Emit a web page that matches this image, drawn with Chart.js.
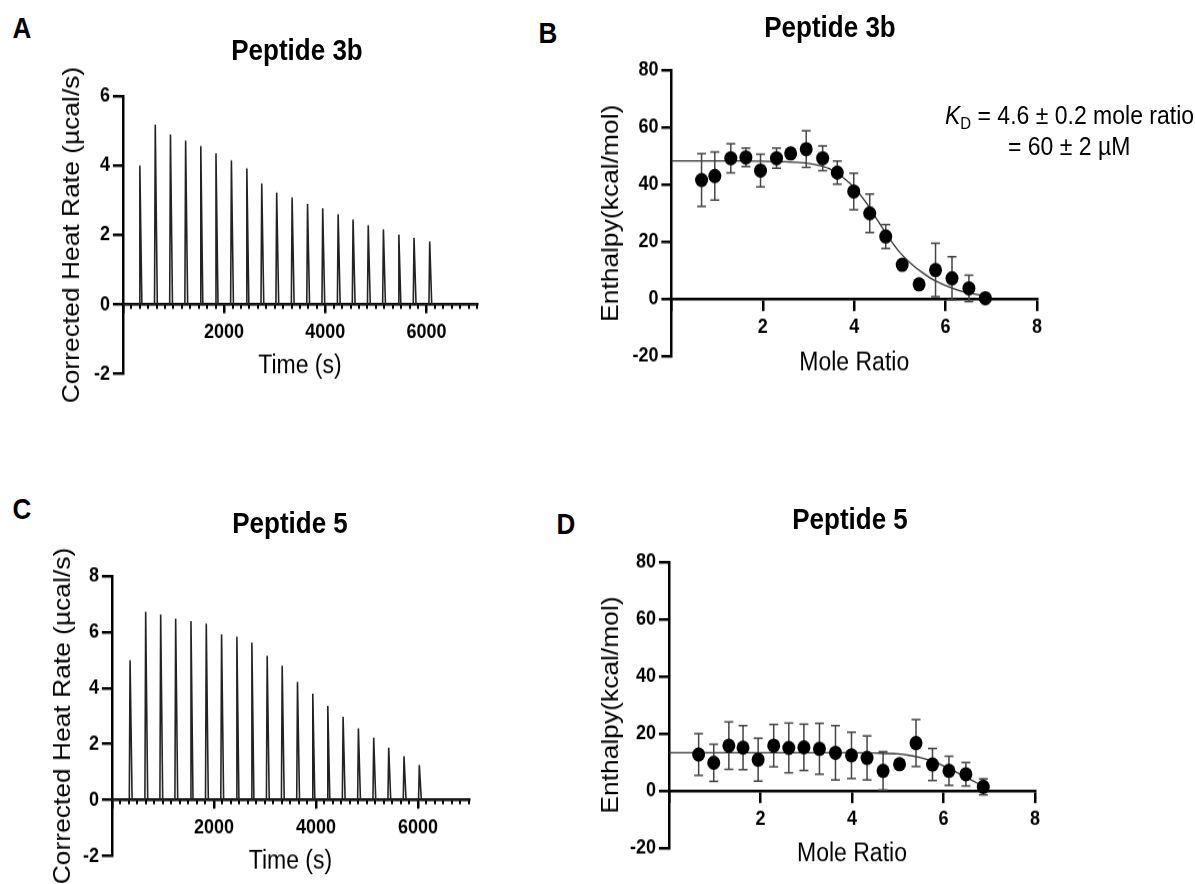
<!DOCTYPE html>
<html>
<head>
<meta charset="utf-8">
<script src="https://cdn.jsdelivr.net/npm/chart.js@4.4.1/dist/chart.umd.min.js"></script>
<style>
body { margin: 0; background: #fff; }
#page { position: relative; width: 1195px; height: 884px; overflow: hidden; background: #fff;
        font-family: "Liberation Sans", Arial, sans-serif; color: #000; }
canvas { position: absolute; transform-origin: 0 0; }
.txt { position: absolute; white-space: nowrap; line-height: 1; transform: translate(-50%, -50%) scaleY(1.1); }
.lft { transform: translate(0, -50%) scaleY(1.1); transform-origin: 0 50%; }
.b { font-weight: bold; }
</style>
</head>
<body>
<div id="page">
  <canvas id="chartA"></canvas>
  <canvas id="chartB"></canvas>
  <canvas id="chartC"></canvas>
  <canvas id="chartD"></canvas>

  <div class="txt b" style="left:22px;top:28px;font-size:26px">A</div>
  <div class="txt b" style="left:548px;top:33px;font-size:26px">B</div>
  <div class="txt b" style="left:22px;top:509px;font-size:26px">C</div>
  <div class="txt b" style="left:566px;top:524px;font-size:26px">D</div>

  <div class="txt b" style="left:297px;top:50px;font-size:26px">Peptide 3b</div>
  <div class="txt b" style="left:830px;top:27px;font-size:26px">Peptide 3b</div>
  <div class="txt b" style="left:290px;top:523px;font-size:26px">Peptide 5</div>
  <div class="txt b" style="left:850px;top:519px;font-size:26px">Peptide 5</div>

  <div class="txt lft" style="left:945px;top:116px;font-size:23px"><i>K</i><span style="font-size:0.65em;position:relative;top:0.3em">D</span> = 4.6 ± 0.2 mole ratio</div>
  <div class="txt lft" style="left:1008px;top:147px;font-size:23px">= 60 ± 2 µM</div>
</div>

<script>
// ---- data ----
// A: peptide 3b raw thermogram
var injTimeA = [335, 640, 940, 1240, 1540, 1840, 2145, 2450, 2745, 3040, 3345, 3650, 3950, 4255, 4550, 4850, 5150, 5455, 5755, 6065];
var peakA = [4.0, 5.18, 4.89, 4.72, 4.56, 4.35, 4.15, 3.92, 3.48, 3.22, 3.08, 2.90, 2.77, 2.60, 2.45, 2.28, 2.16, 2.01, 1.92, 1.81];
// C: peptide 5 raw thermogram
var injTimeC = [356, 662, 956, 1250, 1550, 1850, 2150, 2450, 2744, 3044, 3338, 3638, 3938, 4232, 4532, 4832, 5132, 5426, 5726, 6026];
var peakC = [4.99, 6.72, 6.62, 6.48, 6.39, 6.30, 5.92, 5.83, 5.62, 5.15, 4.80, 4.22, 3.80, 3.36, 2.97, 2.56, 2.22, 1.87, 1.57, 1.25];

// B: peptide 3b integrated heats
var ratioB = [0.66, 0.95, 1.30, 1.63, 1.95, 2.30, 2.61, 2.95, 3.31, 3.63, 3.99, 4.34, 4.69, 5.05, 5.42, 5.78, 6.14, 6.51, 6.87];
var enthB = [41.6, 43.0, 49.2, 49.5, 44.9, 49.2, 50.9, 52.4, 49.2, 44.2, 37.6, 30.0, 21.9, 12.0, 5.2, 10.2, 7.3, 3.8, 0.35];
var errB = [9.2, 8.4, 5.1, 3.2, 5.7, 3.5, 0, 6.4, 4.3, 4.0, 6.4, 6.7, 4.2, 0, 0, 9.3, 7.5, 4.6, 0];
var fitXB = [0, 0.5, 1, 1.5, 2, 2.5, 2.75, 3, 3.25, 3.5, 3.75, 4, 4.25, 4.5, 4.75, 5, 5.25, 5.5, 5.75, 6, 6.25, 6.5, 6.85];
var fitYB = [48.3, 48.3, 48.3, 48.3, 48.2, 48.0, 47.8, 47.4, 46.6, 45.2, 42.6, 39.0, 34.0, 27.8, 21.7, 16.3, 12.3, 9.2, 6.6, 4.8, 3.3, 2.2, 1.2];

// D: peptide 5 integrated heats
var ratioD = [0.65, 0.98, 1.31, 1.62, 1.95, 2.29, 2.62, 2.95, 3.29, 3.64, 3.99, 4.33, 4.68, 5.04, 5.40, 5.76, 6.12, 6.49, 6.87];
var enthD = [12.7, 9.8, 15.8, 15.1, 10.9, 15.8, 15.0, 15.2, 14.7, 13.3, 12.4, 11.5, 7.0, 9.3, 16.7, 9.2, 7.0, 5.8, 1.4];
var errD = [7.3, 6.5, 8.3, 7.7, 7.5, 7.4, 8.7, 8.1, 8.9, 9.5, 8.1, 7.7, 6.7, 0, 8.2, 5.6, 5.1, 4.1, 2.8];
var fitXD = [0, 1, 2, 3, 4, 4.5, 5, 5.25, 5.5, 5.75, 6, 6.25, 6.5, 6.75, 6.87];
var fitYD = [13.3, 13.3, 13.3, 13.3, 13.3, 13.2, 12.9, 12.4, 11.6, 10.4, 8.7, 6.8, 4.7, 2.6, 1.6];

// axis ranges / ticks
var timeMax = 7000, timeTicks = [0, 2000, 4000, 6000], timeMinorStep = 2000 / 12;
var rateRangeA = [-2, 6], rateRangeC = [-2, 8], rateStep = 2;
var ratioMax = 8, ratioTicks = [0, 2, 4, 6, 8];
var enthRange = [-20, 80], enthStep = 20;

Chart.defaults.font.family = '"Liberation Sans", Arial, sans-serif';
Chart.defaults.color = '#000';

var S = 1.1;      // figure is slightly stretched vertically
var PAD_TOP = 50; // room above plot for the rotated y title

// size and place a canvas so its plot area lands on box (page px)
function placeCanvas(id, box) {
  var cv = document.getElementById(id);
  var left = box.titleX - 18.4;
  var w = Math.round(box.right + 20 - left);
  var h = Math.round((box.bottom - box.top) / S + PAD_TOP + 60);
  cv.width = w; cv.height = h;
  cv.style.width = w + 'px'; cv.style.height = h + 'px';
  cv.style.left = left + 'px';
  cv.style.top = (box.top - PAD_TOP * S) + 'px';
  cv.style.transform = 'scaleY(' + S + ')';
  return {cv: cv, axisWidth: box.left - left, padBottom: h - PAD_TOP - (box.bottom - box.top) / S};
}

function yAxis(range, step, title, axisWidth) {
  return {
    type: 'linear', position: 'left', min: range[0], max: range[1],
    ticks: {stepSize: step, padding: 3, font: {size: 18, weight: 'bold'}, color: '#000'},
    grid: {drawOnChartArea: false, tickLength: 10, color: '#000', lineWidth: 2.5},
    border: {display: true, color: '#000', width: 2.5},
    title: {display: true, text: title, font: {size: 24}, color: '#000', padding: {top: 4, bottom: 4}},
    afterFit: function(scale) { scale.width = axisWidth; }
  };
}

function xAxis(max, tickValues, tickLen, pad, title, titlePad) {
  return {
    type: 'linear', position: {y: 0}, min: 0, max: max,
    afterBuildTicks: function(scale) {
      scale.ticks = tickValues.map(function(v) { return {value: v}; });
    },
    ticks: {autoSkip: false, maxRotation: 0, padding: pad,
            font: {size: 18, weight: 'bold'}, color: '#000',
            callback: function(v) { return v === 0 ? '' : String(v); }},
    grid: {drawOnChartArea: false, tickLength: tickLen, color: '#000', lineWidth: 2.5},
    border: {display: true, color: '#000', width: 2.5},
    title: {display: true, text: title, font: {size: 23, lineHeight: 1}, color: '#000', padding: {top: titlePad, bottom: 0}}
  };
}

function minorAxis(max, step) {
  return {
    type: 'linear', axis: 'x', position: {y: 0}, min: 0, max: max,
    ticks: {stepSize: step, autoSkip: false, maxRotation: 0, padding: 0, callback: function() { return ''; }},
    grid: {drawOnChartArea: false, tickLength: 3.5, color: '#000', lineWidth: 2},
    border: {display: false}
  };
}

function baseOptions(p, scales) {
  return {
    responsive: false, animation: false, events: [],
    layout: {padding: {top: PAD_TOP, bottom: p.padBottom, left: 0, right: 20}},
    plugins: {legend: {display: false}, tooltip: {enabled: false}},
    scales: scales
  };
}

// thermogram trace: baseline with a narrow spike at each injection
function spikeTrace(times, peaks) {
  var pts = [{x: 0, y: 0}];
  for (var i = 0; i < times.length; i++) {
    pts.push({x: times[i] - 15, y: 0});
    pts.push({x: times[i], y: peaks[i]});
    pts.push({x: times[i] + 40, y: 0});
  }
  pts.push({x: timeMax, y: 0});
  return pts;
}

function itcDatasets(ratio, enth, err, fitX, fitY) {
  var dots = [], stems = [], caps = [], fit = [];
  for (var i = 0; i < ratio.length; i++) {
    dots.push({x: ratio[i], y: enth[i]});
    if (err[i] > 0) {
      stems.push({x: ratio[i], y: enth[i] - err[i]}, {x: ratio[i], y: enth[i] + err[i]}, {x: ratio[i], y: null});
      caps.push({x: ratio[i], y: enth[i] + err[i]}, {x: ratio[i], y: enth[i] - err[i]});
    }
  }
  for (var j = 0; j < fitX.length; j++) fit.push({x: fitX[j], y: fitY[j]});
  return [
    {type: 'scatter', data: dots, pointRadius: 6.5, pointBackgroundColor: '#000', pointBorderColor: '#000', pointBorderWidth: 0},
    {type: 'scatter', data: caps, pointStyle: 'line', pointRadius: 4.5, pointBorderColor: '#444', pointBorderWidth: 1.5},
    {type: 'line', data: stems, borderColor: '#444', borderWidth: 1.5, pointRadius: 0, spanGaps: false},
    {type: 'line', data: fit, borderColor: '#333', borderWidth: 1.3, pointRadius: 0, cubicInterpolationMode: 'monotone'}
  ];
}

function thermogram(id, box, times, peaks, range) {
  var p = placeCanvas(id, box);
  new Chart(p.cv, {
    type: 'line',
    data: {datasets: [{data: spikeTrace(times, peaks), borderColor: '#222', borderWidth: 1.6, pointRadius: 0, tension: 0}]},
    options: baseOptions(p, {
      x: xAxis(timeMax, timeTicks, 7, 8, 'Time (s)', 0),
      xm: minorAxis(timeMax, timeMinorStep),
      y: yAxis(range, rateStep, 'Corrected Heat Rate (µcal/s)', p.axisWidth)
    })
  });
}

function isotherm(id, box, ratio, enth, err, fitX, fitY) {
  var p = placeCanvas(id, box);
  new Chart(p.cv, {
    type: 'scatter',
    data: {datasets: itcDatasets(ratio, enth, err, fitX, fitY)},
    options: baseOptions(p, {
      x: xAxis(ratioMax, ratioTicks, 9.7, 5.4, 'Mole Ratio', 4.5),
      y: yAxis(enthRange, enthStep, 'Enthalpy(kcal/mol)', p.axisWidth)
    })
  });
}

thermogram('chartA', {left: 123, right: 477, top: 96, bottom: 374, titleX: 72.5}, injTimeA, peakA, rateRangeA);
isotherm('chartB', {left: 671, right: 1036.5, top: 70, bottom: 356.5, titleX: 611}, ratioB, enthB, errB, fitXB, fitYB);
thermogram('chartC', {left: 111.5, right: 469, top: 576, bottom: 856, titleX: 63}, injTimeC, peakC, rateRangeC);
isotherm('chartD', {left: 668.5, right: 1035, top: 562, bottom: 848, titleX: 611}, ratioD, enthD, errD, fitXD, fitYD);
</script>
</body>
</html>
